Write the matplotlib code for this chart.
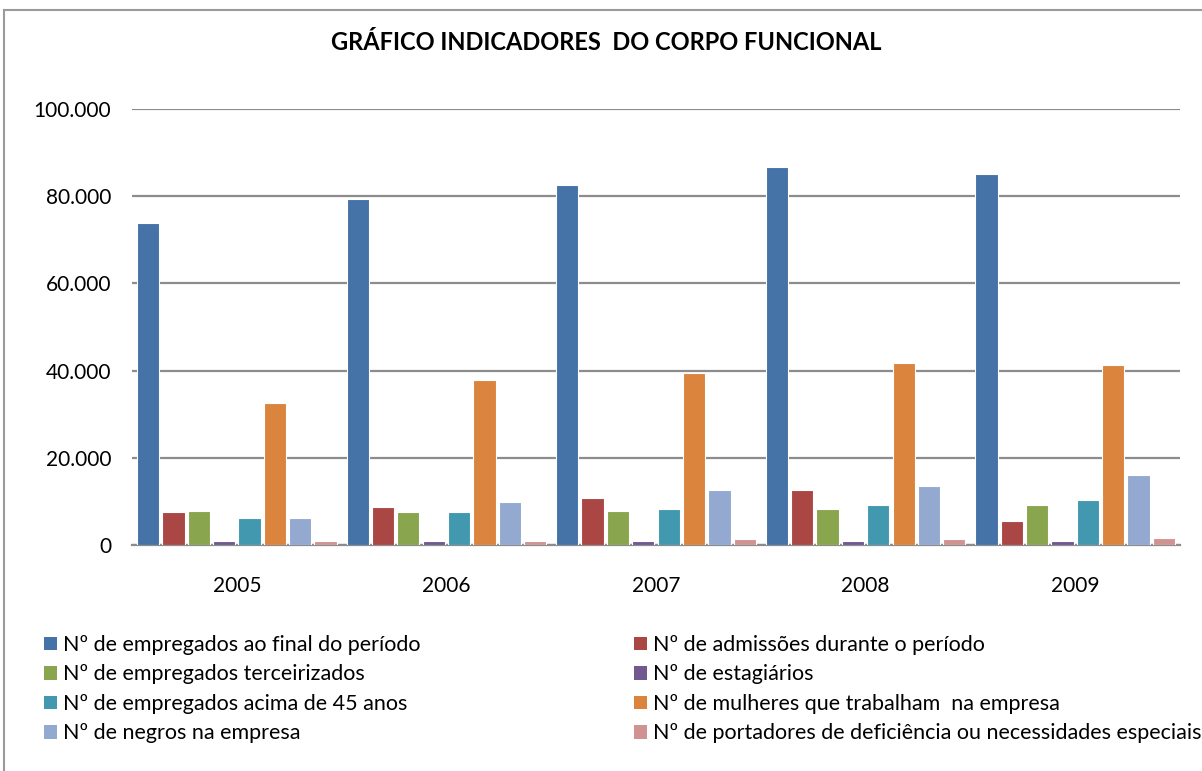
import matplotlib
matplotlib.use("Agg")
import matplotlib.pyplot as plt
import numpy as np
from matplotlib.lines import Line2D
from matplotlib.patches import Patch

plt.rcParams['font.family'] = ['Lato', 'DejaVu Sans']

years = ["2005", "2006", "2007", "2008", "2009"]
series_names = [
    "Nº de empregados ao final do período",
    "Nº de admissões durante o período",
    "Nº de empregados terceirizados",
    "Nº de estagiários",
    "Nº de empregados acima de 45 anos",
    "Nº de mulheres que trabalham  na empresa",
    "Nº de negros na empresa",
    "Nº de portadores de deficiência ou necessidades especiais",
]
empregados = [73800, 79400, 82600, 86600, 85000]
admissoes = [7500, 8700, 10700, 12700, 5500]
terceirizados = [7850, 7500, 7850, 8200, 9100]
estagiarios = [900, 900, 900, 900, 900]
acima45 = [6200, 7500, 8200, 9100, 10300]
mulheres = [32600, 37800, 39400, 41800, 41300]
negros = [6200, 9900, 12700, 13500, 16000]
deficiencia = [900, 900, 1300, 1300, 1700]
values = [empregados, admissoes, terceirizados, estagiarios, acima45, mulheres, negros, deficiencia]
colors = ["#4572A7", "#AA4643", "#89A54E", "#71588F", "#4198AF", "#DB843D", "#93A9CF", "#D19392"]
yticks = [0, 20000, 40000, 60000, 80000, 100000]
ytick_labels = ["0", "20.000", "40.000", "60.000", "80.000", "100.000"]

W, H = 1202, 771
fig = plt.figure(figsize=(W / 100, H / 100), dpi=100)
ax = fig.add_axes([132 / W, 1 - 545 / H, (1180 - 132) / W, (545 - 109) / H])

x = np.arange(len(years))
pitch = 0.121
width = 0.106
handles = []
for i, (vals, c) in enumerate(zip(values, colors)):
    ax.bar(x + (i - 3.5) * pitch, vals, width, color=c, edgecolor="white", linewidth=0.8, zorder=3)
    handles.append(Patch(facecolor=c, edgecolor="none"))

ax.set_xlim(-0.5, len(years) - 0.5)
ax.set_ylim(0, 100000)
ax.set_yticks(yticks)
ax.set_yticklabels(ytick_labels, fontsize=15)
ax.set_xticks(x)
ax.set_xticklabels(years, fontsize=15)
ax.tick_params(axis='both', length=0, colors="black")
ax.tick_params(axis='y', pad=15)
ax.tick_params(axis='x', pad=22)
ax.grid(axis='y', color="#8c8c8c", linewidth=1.6, zorder=0)
for s in ["left", "right", "top"]:
    ax.spines[s].set_visible(False)
ax.spines["bottom"].set_color("#8c8c8c")
ax.spines["bottom"].set_linewidth(1.6)

fig.text(606 / W, 1 - 43 / H, "GRÁFICO INDICADORES  DO CORPO FUNCIONAL", ha="center", va="center",
         fontsize=17, fontweight="bold")

order = [0, 2, 4, 6, 1, 3, 5, 7]
leg = fig.legend([handles[k] for k in order], [series_names[k] for k in order], ncol=2,
                 loc="upper left", bbox_to_anchor=(44 / W, 1 - 635 / H), frameon=False,
                 fontsize=15.5, handlelength=0.6, handleheight=0.6, handletextpad=0.3,
                 columnspacing=9.9, labelspacing=0.44, borderaxespad=0, borderpad=0)

# chart border
fig.add_artist(Line2D([4 / W, 4 / W], [0, 1 - 10 / H], color="#9a9a9a", linewidth=1.5, transform=fig.transFigure))
fig.add_artist(Line2D([4 / W, 1], [1 - 10 / H, 1 - 10 / H], color="#9a9a9a", linewidth=1.5, transform=fig.transFigure))

fig.savefig("out.png", dpi=100)
